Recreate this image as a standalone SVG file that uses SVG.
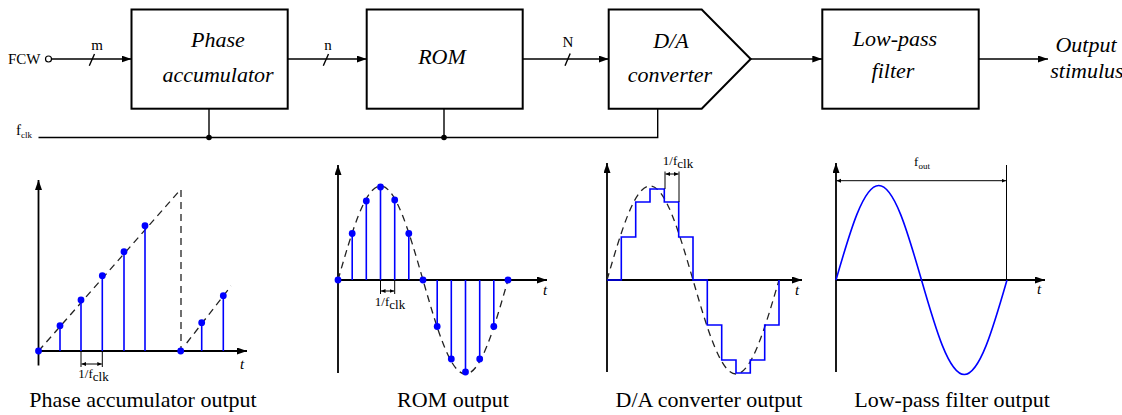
<svg xmlns="http://www.w3.org/2000/svg" width="1122" height="415" viewBox="0 0 1122 415">
<style>
.box{fill:#fff;stroke:#000;stroke-width:2}
.ln{fill:none;stroke:#000;stroke-width:1.4}
.ax{fill:none;stroke:#000;stroke-width:1.8}
.bl{fill:none;stroke:#0000ff;stroke-width:1.6}
.dot{fill:#0000ff}
.dash{fill:none;stroke:#222;stroke-width:1.3;stroke-dasharray:7 5}
.dim{fill:none;stroke:#000;stroke-width:1}
text{font-family:'Liberation Serif','Times New Roman','DejaVu Serif',serif;fill:#000}
.bt{font-style:italic;font-size:22px;text-anchor:middle}
.lb{font-size:15px}
.cap{font-size:22px;text-anchor:middle}
.sm{font-size:13px;text-anchor:middle}
.ti{font-style:italic;font-size:15px}
</style>
<defs>
<marker id="arr" markerUnits="userSpaceOnUse" markerWidth="10" markerHeight="8" refX="10" refY="3.5" orient="auto"><path d="M0,0 L10,3.5 L0,7 z" fill="#000"/></marker>
<marker id="dm" markerUnits="userSpaceOnUse" markerWidth="5" markerHeight="5" refX="4.5" refY="2" orient="auto-start-reverse"><path d="M0,0 L4.5,2 L0,4 z" fill="#000"/></marker>
</defs>

<g id="connectors">
<circle cx="48.5" cy="59" r="3" fill="#fff" stroke="#000" stroke-width="1.2"/>
<line class="ln" x1="51.5" y1="59" x2="131.5" y2="59" marker-end="url(#arr)"/>
<line class="ln" x1="89.3" y1="65.7" x2="94.5" y2="54"/>
<line class="ln" x1="287.7" y1="59" x2="366.7" y2="59" marker-end="url(#arr)"/>
<line class="ln" x1="323.3" y1="65.7" x2="328.5" y2="54"/>
<line class="ln" x1="522.7" y1="59" x2="608.7" y2="59" marker-end="url(#arr)"/>
<line class="ln" x1="565" y1="65.7" x2="570.2" y2="53.5"/>
<line class="ln" x1="750.7" y1="59" x2="822.3" y2="59" marker-end="url(#arr)"/>
<line class="ln" x1="978.7" y1="59" x2="1048" y2="59" marker-end="url(#arr)"/>
<polyline class="ln" points="38.5,137.5 657.7,137.5 657.7,108.7"/>
<line class="ln" x1="209" y1="108.7" x2="209" y2="137.5"/>
<line class="ln" x1="444" y1="108.7" x2="444" y2="137.5"/>
<circle cx="209" cy="137.5" r="2.8" fill="#000"/>
<circle cx="444" cy="137.5" r="2.8" fill="#000"/>
<text class="lb" x="8" y="64" font-size="16">FCW</text>
<text class="lb" x="97" y="50" text-anchor="middle">m</text>
<text class="lb" x="328" y="50" text-anchor="middle">n</text>
<text class="lb" x="568" y="47" text-anchor="middle">N</text>
<text class="lb" x="16" y="135">f<tspan font-size="9" dy="3">clk</tspan></text>
<text class="bt" x="1086" y="52" font-size="17">Output</text>
<text class="bt" x="1087" y="78" font-size="17">stimulus</text>
</g>

<g id="phase-accumulator">
<rect class="box" x="131.5" y="9.5" width="156.2" height="99.2"/>
<text class="bt" x="218" y="47">Phase</text>
<text class="bt" x="218" y="82">accumulator</text>
</g>

<g id="rom">
<rect class="box" x="366.7" y="9.5" width="156" height="99.2"/>
<text class="bt" x="442" y="64">ROM</text>
</g>

<g id="da-converter">
<polygon class="box" points="608.7,9.5 701.7,9.5 750.7,59 701.7,108.7 608.7,108.7"/>
<text class="bt" x="671" y="48">D/A</text>
<text class="bt" x="670" y="82">converter</text>
</g>

<g id="low-pass-filter">
<rect class="box" x="822.3" y="9.5" width="156.4" height="99.2"/>
<text class="bt" x="895" y="46">Low-pass</text>
<text class="bt" x="893" y="78">filter</text>
</g>

<g id="plot-phase">
<line class="ax" x1="38.5" y1="365.5" x2="38.5" y2="180" marker-end="url(#arr)"/>
<line class="ax" x1="38.5" y1="351" x2="247" y2="351" marker-end="url(#arr)"/>
<line class="dash" x1="38.5" y1="351" x2="181" y2="189"/>
<line class="dash" x1="181" y1="190" x2="181" y2="351"/>
<line class="dash" x1="186.7" y1="343" x2="231" y2="286"/>
<g class="bl">
<line x1="60" y1="351" x2="60" y2="325.7"/>
<line x1="81" y1="351" x2="81" y2="300"/>
<line x1="102.3" y1="351" x2="102.3" y2="275.7"/>
<line x1="124" y1="351" x2="124" y2="251.7"/>
<line x1="145" y1="351" x2="145" y2="225.7"/>
<line x1="201.7" y1="351" x2="201.7" y2="322.7"/>
<line x1="223.3" y1="351" x2="223.3" y2="295.7"/>
</g>
<g class="dot">
<circle cx="38.5" cy="351" r="3.4"/>
<circle cx="60" cy="325.7" r="3.4"/>
<circle cx="81" cy="300" r="3.4"/>
<circle cx="102.3" cy="275.7" r="3.4"/>
<circle cx="124" cy="251.7" r="3.4"/>
<circle cx="145" cy="225.7" r="3.4"/>
<circle cx="180.7" cy="351" r="3.4"/>
<circle cx="201.7" cy="322.7" r="3.4"/>
<circle cx="223.3" cy="295.7" r="3.4"/>
</g>
<line class="dim" x1="81" y1="351" x2="81" y2="367"/>
<line class="dim" x1="102.3" y1="351" x2="102.3" y2="367"/>
<line class="dim" x1="81.5" y1="364" x2="101.8" y2="364" marker-start="url(#dm)" marker-end="url(#dm)"/>
<text class="sm" x="93.5" y="378">1/f<tspan dy="3">clk</tspan></text>
<text class="ti" x="240" y="369">t</text>
<text class="cap" x="143" y="407">Phase accumulator output</text>
</g>

<g id="plot-rom">
<line class="ax" x1="338" y1="373" x2="338" y2="165" marker-end="url(#arr)"/>
<line class="ax" x1="338" y1="280" x2="547" y2="280" marker-end="url(#arr)"/>
<path class="dash" d="M338,280 C351.86,231.84 365.12,186 380.5,186 S409.14,231.84 423,280 S450.12,374 465.5,374 S494.14,328.16 508,280"/>
<g class="bl">
<line x1="352.2" y1="280" x2="352.2" y2="233.5"/>
<line x1="366.3" y1="280" x2="366.3" y2="201"/>
<line x1="380.5" y1="280" x2="380.5" y2="187"/>
<line x1="394.7" y1="280" x2="394.7" y2="200"/>
<line x1="408.8" y1="280" x2="408.8" y2="233.5"/>
<line x1="437.2" y1="280" x2="437.2" y2="326.5"/>
<line x1="451.3" y1="280" x2="451.3" y2="359"/>
<line x1="465.5" y1="280" x2="465.5" y2="372"/>
<line x1="479.7" y1="280" x2="479.7" y2="359"/>
<line x1="493.8" y1="280" x2="493.8" y2="326.5"/>
</g>
<g class="dot">
<circle cx="338" cy="280" r="3.4"/>
<circle cx="352.2" cy="233.5" r="3.4"/>
<circle cx="366.3" cy="201" r="3.4"/>
<circle cx="380.5" cy="187" r="3.4"/>
<circle cx="394.7" cy="200" r="3.4"/>
<circle cx="408.8" cy="233.5" r="3.4"/>
<circle cx="423" cy="280" r="3.4"/>
<circle cx="437.2" cy="326.5" r="3.4"/>
<circle cx="451.3" cy="359" r="3.4"/>
<circle cx="465.5" cy="372" r="3.4"/>
<circle cx="479.7" cy="359" r="3.4"/>
<circle cx="493.8" cy="326.5" r="3.4"/>
<circle cx="508" cy="280" r="3.4"/>
</g>
<line class="dim" x1="380.5" y1="280" x2="380.5" y2="294"/>
<line class="dim" x1="394.7" y1="280" x2="394.7" y2="294"/>
<line class="dim" x1="381" y1="291" x2="394.2" y2="291" marker-start="url(#dm)" marker-end="url(#dm)"/>
<text class="sm" x="390" y="306">1/f<tspan dy="3">clk</tspan></text>
<text class="ti" x="543" y="295">t</text>
<text class="cap" x="453" y="407">ROM output</text>
</g>

<g id="plot-da">
<line class="ax" x1="607" y1="372" x2="607" y2="163" marker-end="url(#arr)"/>
<line class="ax" x1="607" y1="280" x2="802" y2="280" marker-end="url(#arr)"/>
<path class="dash" d="M607,280 C621.02,231.84 634.44,186 650,186 S678.98,231.84 693,280 S720.44,374 736,374 S764.98,328.16 779,280"/>
<path class="bl" d="M607,280 H621.3 V237 H635.7 V202 H650 V189 H664.3 V202 H678.7 V237 H693 V280 H707.3 V325 H721.7 V360 H736 V373 H750.3 V360 H764.7 V325 H779 V280"/>
<line class="dim" x1="665" y1="171.5" x2="665" y2="189"/>
<line class="dim" x1="679" y1="171.5" x2="679" y2="202"/>
<line class="dim" x1="665.5" y1="174" x2="678.5" y2="174" marker-start="url(#dm)" marker-end="url(#dm)"/>
<text class="sm" x="678" y="165">1/f<tspan dy="3">clk</tspan></text>
<text class="ti" x="795" y="295">t</text>
<text class="cap" x="709" y="407">D/A converter output</text>
</g>

<g id="plot-lpf">
<line class="ax" x1="836" y1="372" x2="836" y2="163" marker-end="url(#arr)"/>
<line class="ax" x1="836" y1="280" x2="1045" y2="280" marker-end="url(#arr)"/>
<path class="bl" d="M836,280 C849.94,231.6 863.28,185.5 878.75,185.5 S907.56,231.6 921.5,280 S948.78,374.5 964.25,374.5 S993.06,328.4 1007,280"/>
<line class="dim" x1="1006.5" y1="165" x2="1006.5" y2="280"/>
<line class="dim" x1="836.5" y1="180.7" x2="1006" y2="180.7" marker-start="url(#dm)" marker-end="url(#dm)"/>
<text class="sm" x="922" y="166">f<tspan font-size="9" dy="3">out</tspan></text>
<text class="ti" x="1037" y="294">t</text>
<text class="cap" x="952" y="407">Low-pass filter output</text>
</g>
</svg>
